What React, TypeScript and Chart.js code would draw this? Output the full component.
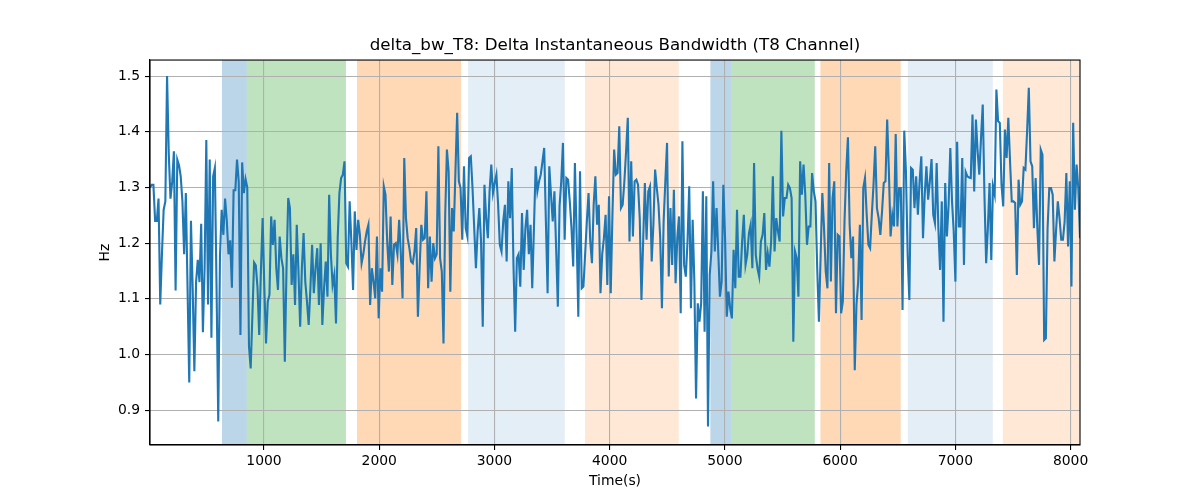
import { useEffect, useRef } from "react"
import { Chart, registerables } from "chart.js"

Chart.register(...registerables)

// Time axis limits (s) and tick labels
const T_START = 10.4
const T_END = 8082
const X_TICKS = [1000, 2000, 3000, 4000, 5000, 6000, 7000, 8000]
const Y_TICKS = [0.9, 1.0, 1.1, 1.2, 1.3, 1.4, 1.5]
const Y_MIN = 0.8376
const Y_MAX = 1.5288

// delta_bw_T8 samples (Hz), evenly spaced in time
const DELTA_BW = [
  1.3, 1.305, 1.305, 1.24, 1.24, 1.28, 1.09, 1.18, 1.26, 1.275, 1.5, 1.36, 1.28, 1.31, 1.365, 1.115, 1.35, 1.34,
  1.32, 1.275, 1.18, 1.29, 1.12, 0.95, 1.24, 1.12, 0.97, 1.13, 1.17, 1.13, 1.235, 1.04, 1.155, 1.385, 1.09, 1.35,
  1.03, 1.32, 1.335, 1.12, 0.88, 1.175, 1.26, 1.215, 1.28, 1.24, 1.18, 1.205, 1.12, 1.295, 1.295, 1.35, 1.31, 1.035,
  1.345, 1.29, 1.315, 1.3, 1.015, 0.975, 1.07, 1.165, 1.16, 1.12, 1.035, 1.15, 1.245, 1.12, 1.02,
  1.095, 1.107, 1.248, 1.197, 1.242, 1.155, 1.116, 1.212, 1.173, 1.155, 0.987, 1.155, 1.281, 1.263, 1.125, 1.18,
  1.089, 1.233, 1.149, 1.05, 1.155, 1.218, 1.131, 1.095, 1.053, 1.119, 1.197, 1.11, 1.155, 1.191, 1.089, 1.2, 1.053,
  1.119, 1.167, 1.104, 1.287, 1.18, 1.125, 1.143, 1.056, 1.209, 1.29, 1.317, 1.323, 1.347, 1.164, 1.158, 1.275,
  1.203, 1.116, 1.257, 1.188, 1.242, 1.215, 1.164, 1.18, 1.203, 1.221, 1.233, 1.089, 1.155, 1.131, 1.101, 1.212,
  1.065, 1.155, 1.113, 1.302, 1.287,
  1.203, 1.149, 1.248, 1.125, 1.197, 1.2, 1.18, 1.242, 1.18, 1.101, 1.353, 1.245, 1.209, 1.191, 1.167, 1.164, 1.185,
  1.227, 1.068, 1.155, 1.233, 1.206, 1.209, 1.293, 1.119, 1.212, 1.131, 1.2, 1.173, 1.18, 1.374, 1.173, 1.149, 1.02,
  1.251, 1.368, 1.329, 1.113, 1.263, 1.221, 1.329, 1.434, 1.311, 1.299, 1.206, 1.338, 1.227, 1.212, 1.353, 1.356,
  1.299, 1.227, 1.155, 1.221, 1.263, 1.203, 1.05, 1.305, 1.245, 1.209, 1.293, 1.341, 1.29, 1.308, 1.323, 1.269,
  1.197, 1.185, 1.239, 1.269, 1.167,
  1.311, 1.245, 1.335, 1.161, 1.041, 1.173, 1.18, 1.122, 1.254, 1.152, 1.227, 1.26, 1.18, 1.233, 1.119, 1.227, 1.338,
  1.293, 1.311, 1.323, 1.347, 1.371, 1.239, 1.11, 1.338, 1.287, 1.239, 1.293, 1.191, 1.086, 1.266, 1.311, 1.38,
  1.206, 1.317, 1.314, 1.275, 1.227, 1.158, 1.344, 1.215, 1.068, 1.329, 1.119, 1.122, 1.18, 1.239, 1.29, 1.203,
  1.164, 1.269, 1.32, 1.233, 1.269, 1.11, 1.18, 1.209, 1.251, 1.125, 1.284, 1.11, 1.251, 1.368, 1.323, 1.326, 1.41,
  1.263, 1.269, 1.311, 1.365, 1.425,
  1.203, 1.347, 1.212, 1.311, 1.314, 1.305, 1.245, 1.098, 1.203, 1.308, 1.206, 1.293, 1.302, 1.167, 1.233, 1.332,
  1.299, 1.269, 1.209, 1.083, 1.239, 1.311, 1.38, 1.14, 1.263, 1.161, 1.296, 1.128, 1.209, 1.248, 1.074, 1.383,
  1.161, 1.14, 1.203, 1.302, 1.083, 1.242, 1.131, 0.921, 1.092, 1.059, 1.092, 1.293, 1.041, 1.284, 0.871, 1.143,
  1.185, 1.311, 1.185, 1.263, 1.185, 1.104, 1.131, 1.305, 1.209, 1.068, 1.113, 1.083, 1.065, 1.188, 1.119, 1.26,
  1.14, 1.14, 1.203, 1.251, 1.161, 1.179,
  1.218, 1.233, 1.155, 1.344, 1.179, 1.155, 1.14, 1.203, 1.215, 1.254, 1.152, 1.182, 1.158, 1.203, 1.32, 1.185,
  1.245, 1.221, 1.203, 1.402, 1.248, 1.281, 1.281, 1.305, 1.299, 1.281, 1.023, 1.185, 1.173, 1.104, 1.347, 1.287,
  1.341, 1.287, 1.197, 1.23, 1.23, 1.326, 1.293, 1.275, 1.155, 1.059, 1.179, 1.29, 1.227, 1.149, 1.119, 1.344,
  1.131, 1.281, 1.311, 1.074, 1.215, 1.212, 1.074, 1.095, 1.239, 1.329, 1.39, 1.233, 1.173, 1.212, 0.972, 1.089,
  1.131, 1.233, 1.062, 1.299, 1.317, 1.251, 1.197,
  1.191, 1.251, 1.305, 1.374, 1.263, 1.245, 1.215, 1.257, 1.308, 1.311, 1.422, 1.329, 1.212, 1.251, 1.23, 1.396,
  1.23, 1.299, 1.299, 1.08, 1.402, 1.329, 1.179, 1.098, 1.335, 1.332, 1.263, 1.32, 1.251, 1.311, 1.356, 1.209,
  1.287, 1.338, 1.278, 1.311, 1.351, 1.251, 1.236, 1.344, 1.227, 1.152, 1.275, 1.059, 1.308, 1.212, 1.269, 1.371,
  1.275, 1.221, 1.131, 1.382, 1.23, 1.23, 1.353, 1.161, 1.328, 1.32, 1.318, 1.317, 1.431, 1.293, 1.422, 1.365,
  1.323, 1.389, 1.449, 1.287, 1.164, 1.227,
  1.308, 1.17, 1.302, 1.287, 1.476, 1.419, 1.416, 1.305, 1.266, 1.404, 1.353, 1.425, 1.347, 1.275, 1.275, 1.272,
  1.143, 1.314, 1.269, 1.275, 1.335, 1.332, 1.401, 1.479, 1.347, 1.338, 1.227, 1.317, 1.227, 1.161, 1.368, 1.359,
  1.026, 1.029, 1.227, 1.299, 1.299, 1.287, 1.167, 1.224, 1.275, 1.245, 1.206, 1.206, 1.239, 1.326, 1.194, 1.311,
  1.122, 1.416, 1.26, 1.341, 1.299, 1.209,
]

// Shaded phases (time spans) and their kind
const BAND_START = [635, 850, 1807, 2771, 3786, 4874, 5056, 5829, 6587, 7412]
const BAND_END = [850, 1711, 2710, 3610, 4600, 5056, 5780, 6526, 7325, 8082]
const BAND_KIND = ["blue", "green", "orange", "paleBlue", "paleOrange", "blue", "green", "orange", "paleBlue", "paleOrange"]

const BAND_COLORS: Record<string, string> = {
  blue: "rgba(31, 119, 180, 0.3)",
  green: "rgba(44, 160, 44, 0.3)",
  orange: "rgba(255, 127, 14, 0.3)",
  paleBlue: "rgba(31, 119, 180, 0.12)",
  paleOrange: "rgba(255, 127, 14, 0.17)",
}

const FONT = "DejaVu Sans"

// axvspan-like shading, painted before grid and line
const bandsPlugin = {
  id: "bands",
  beforeDraw(chart: any) {
    const { ctx, chartArea, scales } = chart
    ctx.save()
    BAND_START.forEach((start, i) => {
      const x0 = scales.x.getPixelForValue(start)
      const x1 = scales.x.getPixelForValue(BAND_END[i])
      ctx.fillStyle = BAND_COLORS[BAND_KIND[i]]
      ctx.fillRect(x0, chartArea.top, x1 - x0, chartArea.bottom - chartArea.top)
    })
    ctx.restore()
  },
}

// full box frame like matplotlib spines
const framePlugin = {
  id: "frame",
  afterDraw(chart: any) {
    const { ctx, chartArea } = chart
    ctx.save()
    ctx.strokeStyle = "#000"
    ctx.lineWidth = 1.1
    ctx.strokeRect(chartArea.left, chartArea.top, chartArea.right - chartArea.left, chartArea.bottom - chartArea.top)
    ctx.restore()
  },
}

export default function App() {
  const chartRef = useRef<HTMLCanvasElement>(null)
  const chartInstance = useRef<Chart | null>(null)

  useEffect(() => {
    document.body.style.margin = "0"
    if (!chartRef.current) return
    if (chartInstance.current) {
      chartInstance.current.destroy()
    }
    const ctx = chartRef.current.getContext("2d")
    if (!ctx) return

    const step = (T_END - T_START) / (DELTA_BW.length - 1)
    const points = DELTA_BW.map((v, i) => ({ x: T_START + i * step, y: v }))

    chartInstance.current = new Chart(ctx, {
      type: "line",
      data: {
        datasets: [
          {
            label: "delta_bw_T8",
            data: points,
            borderColor: "#1f77b4",
            borderWidth: 2.1,
            pointRadius: 0,
            tension: 0,
            fill: false,
          },
        ],
      },
      options: {
        animation: false,
        responsive: true,
        maintainAspectRatio: false,
        layout: { padding: { left: 0, right: 120, top: 0, bottom: 0 } },
        plugins: {
          legend: { display: false },
          tooltip: { enabled: false },
          title: {
            display: true,
            fullSize: false,
            text: "delta_bw_T8: Delta Instantaneous Bandwidth (T8 Channel)",
            color: "#000",
            font: { family: FONT, size: 16.7, weight: "normal" },
            padding: { top: 36, bottom: 4 },
          },
        },
        scales: {
          x: {
            type: "linear",
            min: T_START,
            max: T_END,
            afterBuildTicks: (axis: any) => {
              axis.ticks = X_TICKS.map((value) => ({ value }))
            },
            afterFit: (axis: any) => {
              axis.height = 55
            },
            ticks: {
              color: "#000",
              font: { family: FONT, size: 13.9 },
              padding: 3,
              maxRotation: 0,
              callback: (v: any) => String(v),
            },
            grid: { color: "#b0b0b0", lineWidth: 1.1, tickLength: 5, tickColor: "#000" },
            border: { display: true, color: "#000", width: 1.1 },
            title: {
              display: true,
              text: "Time(s)",
              color: "#000",
              font: { family: FONT, size: 13.9 },
              padding: { top: 0, bottom: 10.7 },
            },
          },
          y: {
            type: "linear",
            min: Y_MIN,
            max: Y_MAX,
            afterBuildTicks: (axis: any) => {
              axis.ticks = Y_TICKS.map((value) => ({ value }))
            },
            afterFit: (axis: any) => {
              axis.width = 150
            },
            ticks: {
              color: "#000",
              font: { family: FONT, size: 13.9 },
              padding: 5,
              callback: (v: any) => Number(v).toFixed(1),
            },
            grid: { color: "#b0b0b0", lineWidth: 1.1, tickLength: 5, tickColor: "#000" },
            border: { display: true, color: "#000", width: 1.1 },
            title: {
              display: true,
              text: "Hz",
              color: "#000",
              font: { family: FONT, size: 13.9 },
              padding: { top: 97, bottom: 0 },
            },
          },
        },
      },
      plugins: [bandsPlugin, framePlugin],
    })

    return () => {
      if (chartInstance.current) {
        chartInstance.current.destroy()
        chartInstance.current = null
      }
    }
  }, [])

  return (
    <div style={{ width: 1200, height: 500, position: "relative" }}>
      <canvas ref={chartRef} aria-label="delta_bw_T8 chart"></canvas>
    </div>
  )
}
